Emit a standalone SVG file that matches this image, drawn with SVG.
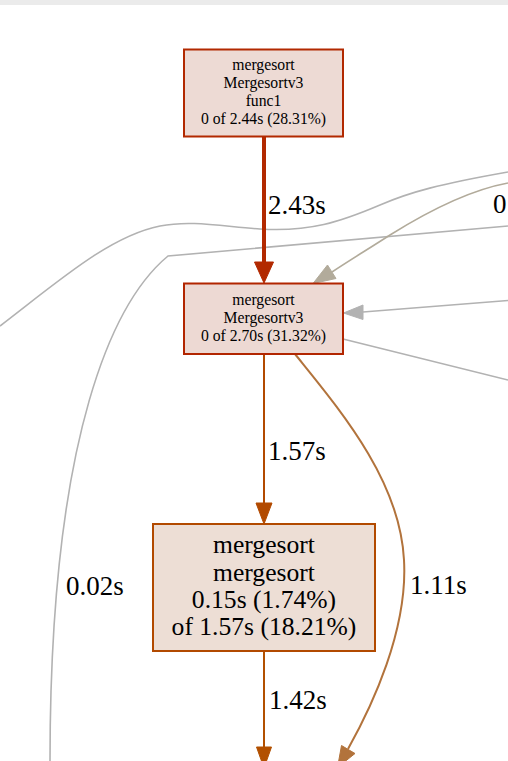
<svg xmlns="http://www.w3.org/2000/svg" width="508" height="761" viewBox="0 0 508 761">
<style>
  .nodetxt { font-family: 'Liberation Serif', 'Times New Roman', serif; fill: #000; text-anchor: middle; }
  .small { font-size: 15.7px; }
  .big { font-size: 25.6px; }
  .elabel { font-family: 'Liberation Serif', 'Times New Roman', serif; font-size: 27px; fill: #000; }
  .edge { fill: none; }
  .gray { stroke: #b2b2b2; stroke-width: 1.6; }
</style>
<rect x="0" y="0" width="508" height="761" fill="#ffffff"/>
<rect x="0" y="0" width="508" height="5" fill="#ebebeb"/>

<g id="connectors">
  <path class="edge gray" d="M508,172 C440,184 410,192 380,205 C340,222 310,232 260,229 C220,226 190,220 160,226 C110,236 60,280 0,326"/>
  <path class="edge gray" d="M508,226 L168,256 C115,300 50,430 50,761"/>
  <text class="elabel" x="66" y="595">0.02s</text>
  <path class="edge" stroke="#b2ab9b" stroke-width="1.6" d="M508,183 C470,190 430,210 390,235 C370,248 350,260 332,272"/>
  <polygon points="327.5,265 313,283.5 336,278.5" fill="#b2ab9b" stroke="#b2ab9b" stroke-width="1"/>
  <text class="elabel" x="493" y="213">0</text>
  <path class="edge gray" d="M508,300.5 L363,312"/>
  <polygon points="363,305 343.5,313 363,319.5" fill="#b2b2b2" stroke="#b2b2b2" stroke-width="1"/>
  <path class="edge gray" d="M343,339 L508,380"/>
  <path class="edge" stroke="#b22900" stroke-width="4" d="M264,137 L264,262"/>
  <polygon points="254.5,262 264,283 273.5,262" fill="#b22900" stroke="#b22900" stroke-width="1"/>
  <text class="elabel" x="268" y="214">2.43s</text>
  <path class="edge" stroke="#b24a00" stroke-width="2" d="M264,354 L264,503"/>
  <polygon points="256,503 264,524 272,503" fill="#b24a00" stroke="#b24a00" stroke-width="1"/>
  <text class="elabel" x="268" y="460">1.57s</text>
  <path class="edge" stroke="#b2733c" stroke-width="2" d="M295,354 C340,410 400,480 404,560 C408,630 372,706 348,749"/>
  <polygon points="341.5,745.5 337.5,767.5 355,753.5" fill="#b2733c" stroke="#b2733c" stroke-width="1"/>
  <text class="elabel" x="410" y="594">1.11s</text>
  <path class="edge" stroke="#b25000" stroke-width="2" d="M264,651 L264,747"/>
  <polygon points="256.5,747 264,768 271.5,747" fill="#b25000" stroke="#b25000" stroke-width="1"/>
  <text class="elabel" x="269" y="709">1.42s</text>
</g>

<g id="node-func1">
  <rect x="184" y="49.5" width="159" height="87" fill="#eddad4" stroke="#b22900" stroke-width="2"/>
  <text class="nodetxt small" x="263.5" y="70">mergesort</text>
  <text class="nodetxt small" x="263.5" y="88">Mergesortv3</text>
  <text class="nodetxt small" x="263.5" y="106">func1</text>
  <text class="nodetxt small" x="263.5" y="124">0 of 2.44s (28.31%)</text>
</g>

<g id="node-mergesortv3">
  <rect x="184" y="283.5" width="159" height="70.5" fill="#edd9d3" stroke="#b22500" stroke-width="2"/>
  <text class="nodetxt small" x="263.5" y="305">mergesort</text>
  <text class="nodetxt small" x="263.5" y="323">Mergesortv3</text>
  <text class="nodetxt small" x="263.5" y="341">0 of 2.70s (31.32%)</text>
</g>

<g id="node-mergesort">
  <rect x="153" y="524" width="222" height="127" fill="#edded5" stroke="#b24a00" stroke-width="2"/>
  <text class="nodetxt big" x="264" y="553">mergesort</text>
  <text class="nodetxt big" x="264" y="580.5">mergesort</text>
  <text class="nodetxt big" x="264" y="607.5">0.15s (1.74%)</text>
  <text class="nodetxt big" x="264" y="634.5">of 1.57s (18.21%)</text>
</g>
</svg>
